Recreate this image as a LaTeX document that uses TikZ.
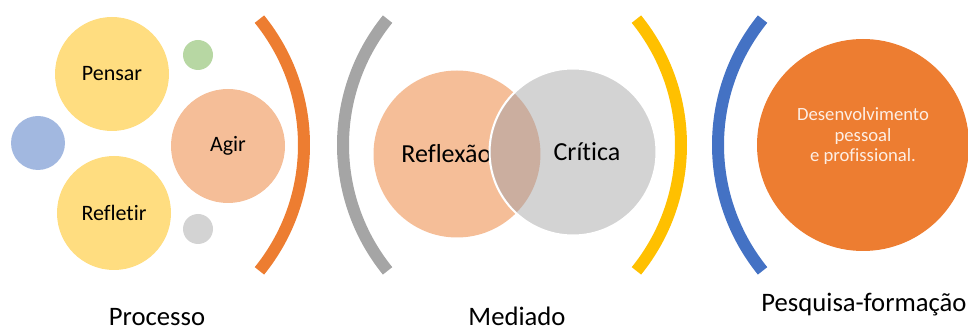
\documentclass[tikz,border=0pt]{standalone}
\usepackage{fontspec}
\setmainfont{Carlito}[Ligatures=NoCommon]
\usepackage{xcolor}
\usepackage{tikz}
\usetikzlibrary{shapes,backgrounds}
\usetikzlibrary{positioning}

\definecolor{arcorange}{HTML}{ED7D31}
\definecolor{arcgray}{HTML}{A5A5A5}
\definecolor{arcyellow}{HTML}{FFC000}
\definecolor{arcblue}{HTML}{4472C4}
\definecolor{gold}{HTML}{FFDD80}
\definecolor{peach}{HTML}{F5BE98}
\definecolor{lgray}{HTML}{D3D3D3}
\definecolor{lblue}{HTML}{A2B8E0}
\definecolor{lgreen}{HTML}{B7D7A3}
\definecolor{mix}{HTML}{CBAE9F}
\definecolor{softwhite}{HTML}{FDEEE4}

\begin{document}
\begin{tikzpicture}[
x=0.75pt, y=-0.75pt,
bubble/.style = {circle, inner sep=0pt, minimum size=#1},
paren/.style  = {line width=9pt, line cap=butt},
small/.style  = {font=\fontsize{16.5}{19}\selectfont},
big/.style    = {font=\fontsize{19.5}{23}\selectfont},
caption/.style= {anchor=base, font=\fontsize{20}{24}\selectfont}
                        ]
\useasboundingbox (0,0) rectangle (968,331);
%
\node (pensar)   [bubble=85.5pt, fill=gold, small]  at (112,74)  {Pensar};
\node (refletir) [bubble=85.5pt, fill=gold, small]  at (114,213) {Refletir};
\node (agir)     [bubble=85.5pt, fill=peach, small] at (228,146) {Agir};
\node (dotb)     [bubble=40.5pt, fill=lblue]  at (38,143)  {};
\node (dotg)     [bubble=22.5pt, fill=lgreen] at (198,55)  {};
\node (dotc)     [bubble=22.5pt, fill=lgray]  at (198,229) {};
%
\node (refl) [bubble=125.25pt, fill=peach,
              label={[big, xshift=-8pt]center:Reflexão}] at (457,154) {};
\node (crit) [bubble=125.25pt, fill=lgray, draw=white, line width=1.5pt,
              label={[big, xshift=10.5pt]center:Crítica}] at (573,152) {};
\begin{scope}
\clip (refl.center) circle[radius=62.6pt];
\fill[mix] (crit.center) circle[radius=61.6pt];
\end{scope}
%
\node (desenv) [bubble=159pt, fill=arcorange,
                label={[align=center, text=softwhite, yshift=6.5pt,
                        font=\fontsize{14}{15.4}\selectfont]center:Desenvolvimento\\pessoal\\e profissional.}]
      at (863,145) {};
%
\foreach \cx/\a/\col [count=\i] in {104/-39/arcorange, 543/141/arcgray,
                                    481/-39/arcyellow, 918/141/arcblue}
    \draw[paren, \col] (\cx,145) ++(\a:150pt) coordinate (p\i)
        arc[start angle=\a, end angle=\a+78, radius=150pt];
%
\node (processo) [caption] at (157,326) {Processo};
\node (mediado)  [caption] at (517,326) {Mediado};
\node (pesquisa) [caption] at (864,312) {Pesquisa-formação};
\end{tikzpicture}
\end{document}
